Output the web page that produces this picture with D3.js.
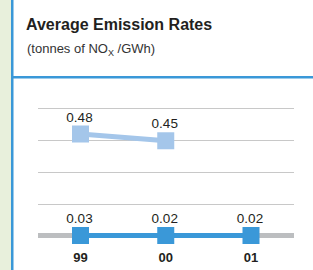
<!DOCTYPE html>
<html>
<head>
<meta charset="utf-8">
<script src="https://cdn.jsdelivr.net/npm/d3@7"></script>
<style>
  body { margin: 0; background: #fff; }
  svg { display: block; }
</style>
</head>
<body>
<script>
// data
const years = ['99', '00', '01'];
const upperValues = [0.48, 0.45];        // light blue series
const lowerValues = [0.03, 0.02, 0.02];  // dark blue series
const gridCount = 4;

const width = 313, height = 270;
const font = "'Liberation Sans', Arial, sans-serif";

const svg = d3.select('body').append('svg')
  .attr('width', width)
  .attr('height', height);

// side strip and frame
svg.append('rect').attr('x', 0).attr('y', 0).attr('width', 11).attr('height', height).attr('fill', '#e8f0dc');
svg.append('rect').attr('x', 11).attr('y', 0).attr('width', 2.5).attr('height', height).attr('fill', '#3a98d8');
svg.append('rect').attr('x', 13).attr('y', 76).attr('width', width - 13).attr('height', 2.5).attr('fill', '#3a98d8');

// title
svg.append('text')
  .attr('x', 26).attr('y', 30)
  .attr('font-family', font)
  .attr('font-weight', 'bold')
  .attr('font-size', 16)
  .attr('fill', '#231f20')
  .text('Average Emission Rates');

const sub = svg.append('text')
  .attr('x', 27).attr('y', 53)
  .attr('font-family', font)
  .attr('font-size', 13)
  .attr('fill', '#333');
sub.append('tspan').text('(tonnes of NO');
sub.append('tspan').attr('font-size', 9).attr('dy', 3).text('X');
sub.append('tspan').attr('dy', -3).text(' /GWh)');

// scales
const x = d3.scalePoint()
  .domain(years)
  .range([80.5, 251]);

const y = d3.scaleLinear()
  .domain([0.03, 0.48])
  .range([235.5, 134])
  .clamp(true);

const grid = d3.scaleLinear()
  .domain([0, gridCount])
  .range([235.5, 108]);

const graph = svg.append('g');

// gridlines
graph.selectAll('.grid')
  .data(d3.range(1, gridCount + 1))
  .enter()
  .append('line')
  .attr('class', 'grid')
  .attr('x1', 38).attr('x2', 294)
  .attr('y1', d => Math.round(grid(d)) + 0.5)
  .attr('y2', d => Math.round(grid(d)) + 0.5)
  .attr('stroke', '#c8c8c8')
  .attr('stroke-width', 1);

// baseline
graph.append('line')
  .attr('x1', 38).attr('x2', 294)
  .attr('y1', grid(0)).attr('y2', grid(0))
  .attr('stroke', '#bcbec0')
  .attr('stroke-width', 5);

const line = d3.line()
  .x((d, i) => x(years[i]))
  .y(d => y(d));

const series = [
  { values: upperValues, color: '#a4c6ea' },
  { values: lowerValues, color: '#3a98d8' }
];

series.forEach(s => {
  graph.append('path')
    .datum(s.values)
    .attr('d', line)
    .attr('fill', 'none')
    .attr('stroke', s.color)
    .attr('stroke-width', 5);

  graph.selectAll(null)
    .data(s.values)
    .enter()
    .append('rect')
    .attr('x', (d, i) => x(years[i]) - 8.5)
    .attr('y', d => y(d) - 8.5)
    .attr('width', 17)
    .attr('height', 17)
    .attr('fill', s.color);

  graph.selectAll(null)
    .data(s.values)
    .enter()
    .append('text')
    .attr('x', (d, i) => x(years[i]) - 1)
    .attr('y', d => y(d) - 12.5)
    .attr('text-anchor', 'middle')
    .attr('font-family', font)
    .attr('font-size', 13.5)
    .attr('fill', '#231f20')
    .text(d => d.toFixed(2));
});

// x axis labels
graph.selectAll('.year')
  .data(years)
  .enter()
  .append('text')
  .attr('class', 'year')
  .attr('x', d => x(d))
  .attr('y', 262)
  .attr('text-anchor', 'middle')
  .attr('font-family', font)
  .attr('font-weight', 'bold')
  .attr('font-size', 13)
  .attr('fill', '#231f20')
  .text(d => d);
</script>
</body>
</html>
